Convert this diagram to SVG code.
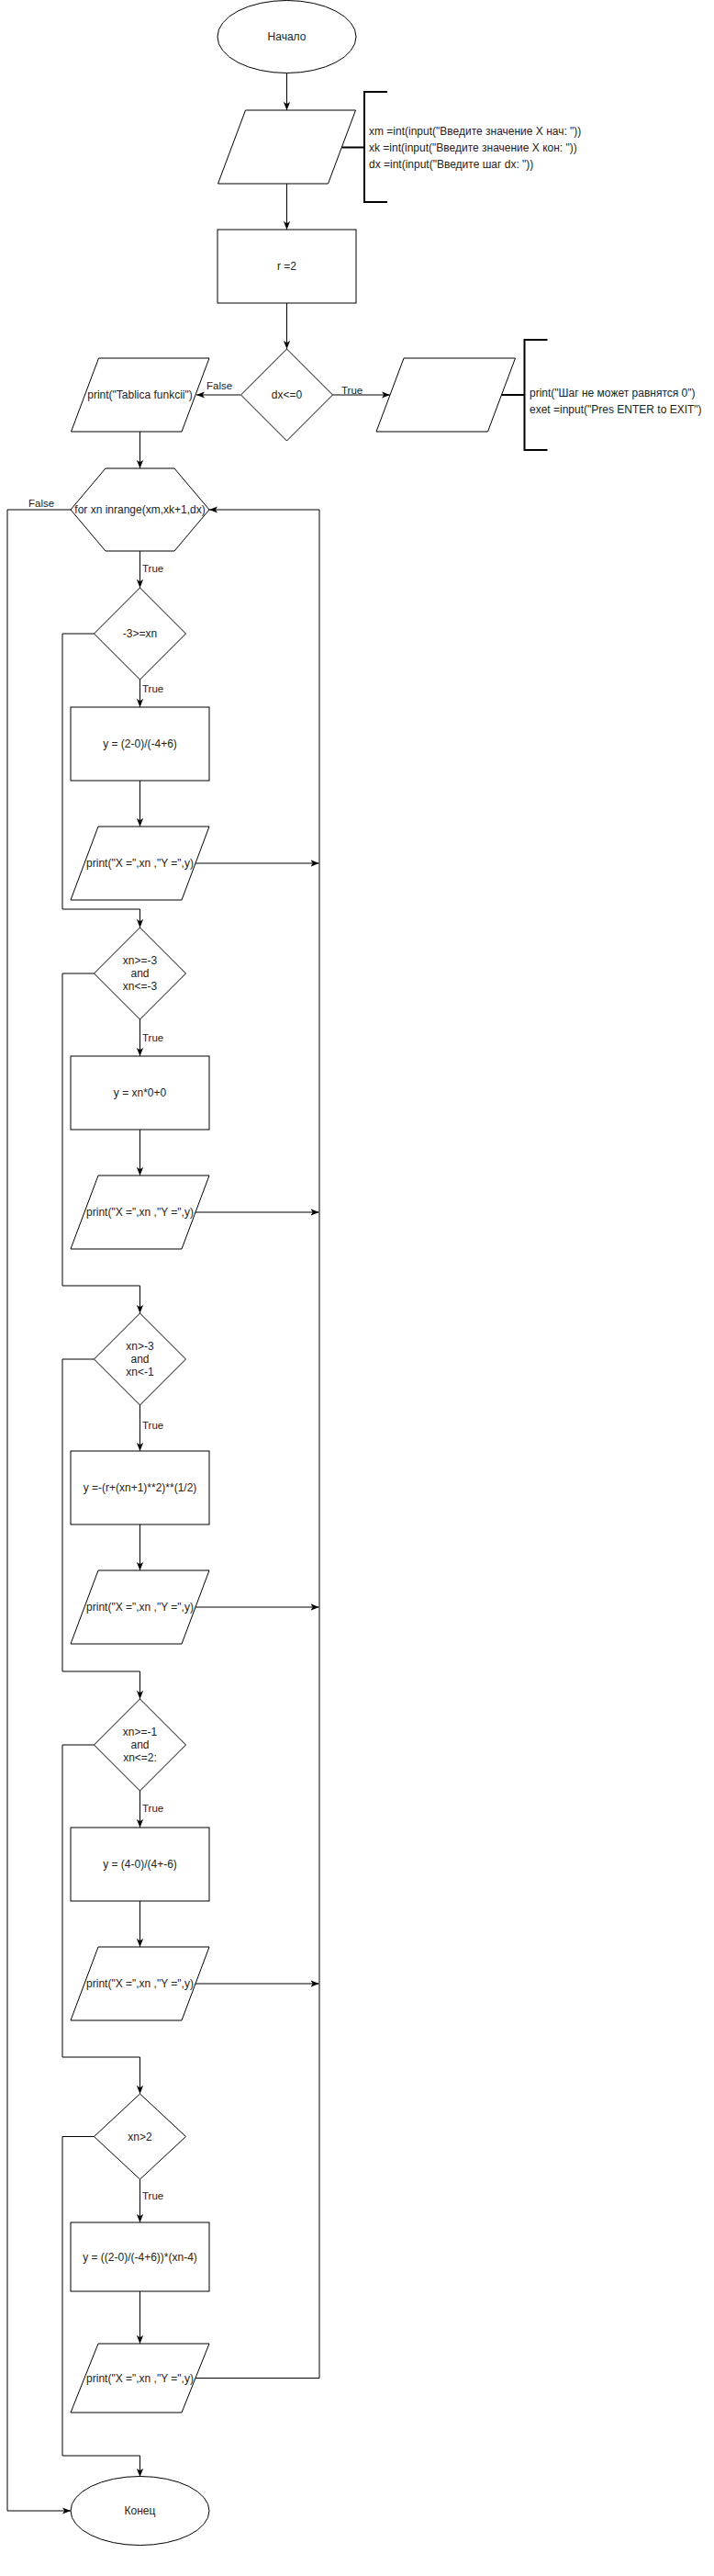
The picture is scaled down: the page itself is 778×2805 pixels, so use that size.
<svg xmlns="http://www.w3.org/2000/svg" width="778" height="2805" viewBox="0 0 778 2805">
<defs>
<marker id="arr" viewBox="0 0 10 8" refX="10" refY="4" markerWidth="9" markerHeight="7.5" orient="auto" markerUnits="userSpaceOnUse">
<path d="M0,0 L10,4 L0,8 L2.5,4 z" fill="#000"/>
</marker>
</defs>
<style>
.s{fill:#fff;stroke:#000;stroke-width:1}
.t{font-family:"Liberation Sans",Arial,sans-serif;font-size:12px;fill:#222;text-anchor:middle}
.l{font-family:"Liberation Sans",Arial,sans-serif;font-size:12px;fill:#222}
.e{font-family:"Liberation Sans",Arial,sans-serif;font-size:11.5px;fill:#222}
.c{fill:none;stroke:#000;stroke-width:1}
.a{fill:none;stroke:#000;stroke-width:1;marker-end:url(#arr)}
.b{fill:none;stroke:#000;stroke-width:2}
</style>
<rect x="0" y="0" width="778" height="2805" fill="#fff"/>

<g id="connectors">
<line class="a" x1="312.5" y1="80" x2="312.5" y2="120"/>
<line class="a" x1="312.5" y1="200" x2="312.5" y2="250"/>
<line class="a" x1="312.5" y1="330" x2="312.5" y2="380"/>
<line class="a" x1="262" y1="430" x2="214" y2="430"/>
<line class="a" x1="362.5" y1="430" x2="425" y2="430"/>
<line class="a" x1="152.5" y1="470" x2="152.5" y2="510"/>
<line class="a" x1="152.5" y1="600" x2="152.5" y2="640"/>
<line class="a" x1="152.5" y1="740" x2="152.5" y2="770"/>
<line class="a" x1="152.5" y1="850" x2="152.5" y2="900"/>
<line class="a" x1="213" y1="940" x2="347.5" y2="940"/>
<polyline class="a" points="102.5,690 68,690 68,990 152.5,990 152.5,1010"/>
<line class="a" x1="152.5" y1="1110" x2="152.5" y2="1150"/>
<line class="a" x1="152.5" y1="1230" x2="152.5" y2="1280"/>
<line class="a" x1="213" y1="1320" x2="347.5" y2="1320"/>
<polyline class="a" points="102.5,1060 68,1060 68,1400 152.5,1400 152.5,1430"/>
<line class="a" x1="152.5" y1="1530" x2="152.5" y2="1580"/>
<line class="a" x1="152.5" y1="1660" x2="152.5" y2="1710"/>
<line class="a" x1="213" y1="1750" x2="347.5" y2="1750"/>
<polyline class="a" points="102.5,1480 68,1480 68,1820 152.5,1820 152.5,1850"/>
<line class="a" x1="152.5" y1="1950" x2="152.5" y2="1990"/>
<line class="a" x1="152.5" y1="2070" x2="152.5" y2="2120"/>
<line class="a" x1="213" y1="2160" x2="347.5" y2="2160"/>
<polyline class="a" points="102.5,1900 68,1900 68,2240 152.5,2240 152.5,2280"/>
<line class="a" x1="152.5" y1="2373" x2="152.5" y2="2420"/>
<line class="a" x1="152.5" y1="2495" x2="152.5" y2="2552"/>
<polyline class="a" points="213,2589.5 348,2589.5 348,555 228,555"/>
<polyline class="a" points="102.5,2326.5 68,2326.5 68,2674 152.5,2674 152.5,2697"/>
<polyline class="a" points="77,555 8,555 8,2734 77,2734"/>
<text class="e" x="225" y="424">False</text>
<text class="e" x="372" y="429">True</text>
<text class="e" x="31" y="552">False</text>
<text class="e" x="155" y="623">True</text>
<text class="e" x="155" y="754">True</text>
<text class="e" x="155" y="1134">True</text>
<text class="e" x="155" y="1556">True</text>
<text class="e" x="155" y="1973">True</text>
<text class="e" x="155" y="2395">True</text>
</g>

<g id="start">
<ellipse class="s" cx="312.5" cy="40" rx="75.5" ry="39.5"/>
<text class="t" x="312.5" y="44">Начало</text>
</g>

<g id="input">
<polygon class="s" points="267.5,120 387.5,120 357.5,200 237.5,200"/>
</g>
<g id="input-note">
<line class="b" x1="372.5" y1="160.5" x2="397" y2="160.5"/>
<polyline class="b" points="422,100 397,100 397,220 422,220"/>
<text class="l" x="402" y="147">xm =int(input("Введите значение X нач: "))</text>
<text class="l" x="402" y="165">xk =int(input("Введите значение X кон: "))</text>
<text class="l" x="402" y="183">dx =int(input("Введите шаг dx: "))</text>
</g>

<g id="r2">
<rect class="s" x="237" y="250" width="151" height="80"/>
<text class="t" x="312.5" y="294">r =2</text>
</g>

<g id="dx-check">
<polygon class="s" points="312.5,380 362.5,430 312.5,480 262.5,430"/>
<text class="t" x="312.5" y="434">dx&lt;=0</text>
</g>

<g id="print-table">
<polygon class="s" points="107.5,390 228,390 198,470 77.5,470"/>
<text class="t" x="152.5" y="434">print("Tablica funkcii")</text>
</g>

<g id="print-error">
<polygon class="s" points="440,390 561.5,390 531.5,470 410,470"/>
</g>
<g id="error-note">
<line class="b" x1="546.5" y1="430" x2="571.5" y2="430"/>
<polyline class="b" points="596.5,370 571.5,370 571.5,490 596.5,490"/>
<text class="l" x="577" y="432">print("Шаг не может равнятся 0")</text>
<text class="l" x="577" y="450">exet =input("Pres ENTER to EXIT")</text>
</g>

<g id="loop">
<polygon class="s" points="115,510 190,510 228,555 190,600 115,600 77,555"/>
<text class="t" x="152.5" y="559">for xn inrange(xm,xk+1,dx)</text>
</g>

<g id="cond1">
<polygon class="s" points="152.5,640 202.5,690 152.5,740 102.5,690"/>
<text class="t" x="152.5" y="694">-3&gt;=xn</text>
</g>
<g id="calc1">
<rect class="s" x="77" y="770" width="151" height="80"/>
<text class="t" x="152.5" y="814">y = (2-0)/(-4+6)</text>
</g>
<g id="print1">
<polygon class="s" points="107,900 228,900 198,980 77,980"/>
<text class="t" x="152.5" y="944">print("X =",xn ,"Y =",y)</text>
</g>

<g id="cond2">
<polygon class="s" points="152.5,1010 202.5,1060 152.5,1110 102.5,1060"/>
<text class="t" x="152.5" y="1050">xn&gt;=-3</text>
<text class="t" x="152.5" y="1064">and</text>
<text class="t" x="152.5" y="1078">xn&lt;=-3</text>
</g>
<g id="calc2">
<rect class="s" x="77" y="1150" width="151" height="80"/>
<text class="t" x="152.5" y="1194">y = xn*0+0</text>
</g>
<g id="print2">
<polygon class="s" points="107,1280 228,1280 198,1360 77,1360"/>
<text class="t" x="152.5" y="1324">print("X =",xn ,"Y =",y)</text>
</g>

<g id="cond3">
<polygon class="s" points="152.5,1430 202.5,1480 152.5,1530 102.5,1480"/>
<text class="t" x="152.5" y="1470">xn&gt;-3</text>
<text class="t" x="152.5" y="1484">and</text>
<text class="t" x="152.5" y="1498">xn&lt;-1</text>
</g>
<g id="calc3">
<rect class="s" x="77" y="1580" width="151" height="80"/>
<text class="t" x="152.5" y="1624">y =-(r+(xn+1)**2)**(1/2)</text>
</g>
<g id="print3">
<polygon class="s" points="107,1710 228,1710 198,1790 77,1790"/>
<text class="t" x="152.5" y="1754">print("X =",xn ,"Y =",y)</text>
</g>

<g id="cond4">
<polygon class="s" points="152.5,1850 202.5,1900 152.5,1950 102.5,1900"/>
<text class="t" x="152.5" y="1890">xn&gt;=-1</text>
<text class="t" x="152.5" y="1904">and</text>
<text class="t" x="152.5" y="1918">xn&lt;=2:</text>
</g>
<g id="calc4">
<rect class="s" x="77" y="1990" width="151" height="80"/>
<text class="t" x="152.5" y="2034">y = (4-0)/(4+-6)</text>
</g>
<g id="print4">
<polygon class="s" points="107,2120 228,2120 198,2200 77,2200"/>
<text class="t" x="152.5" y="2164">print("X =",xn ,"Y =",y)</text>
</g>

<g id="cond5">
<polygon class="s" points="152.5,2280 202.5,2326.5 152.5,2373 102.5,2326.5"/>
<text class="t" x="152.5" y="2330.5">xn&gt;2</text>
</g>
<g id="calc5">
<rect class="s" x="77" y="2420" width="151" height="75"/>
<text class="t" x="152.5" y="2461.5">y = ((2-0)/(-4+6))*(xn-4)</text>
</g>
<g id="print5">
<polygon class="s" points="107,2552 228,2552 198,2627 77,2627"/>
<text class="t" x="152.5" y="2593.5">print("X =",xn ,"Y =",y)</text>
</g>

<g id="end">
<ellipse class="s" cx="152.5" cy="2734" rx="75.5" ry="37.5"/>
<text class="t" x="152.5" y="2738">Конец</text>
</g>
</svg>
